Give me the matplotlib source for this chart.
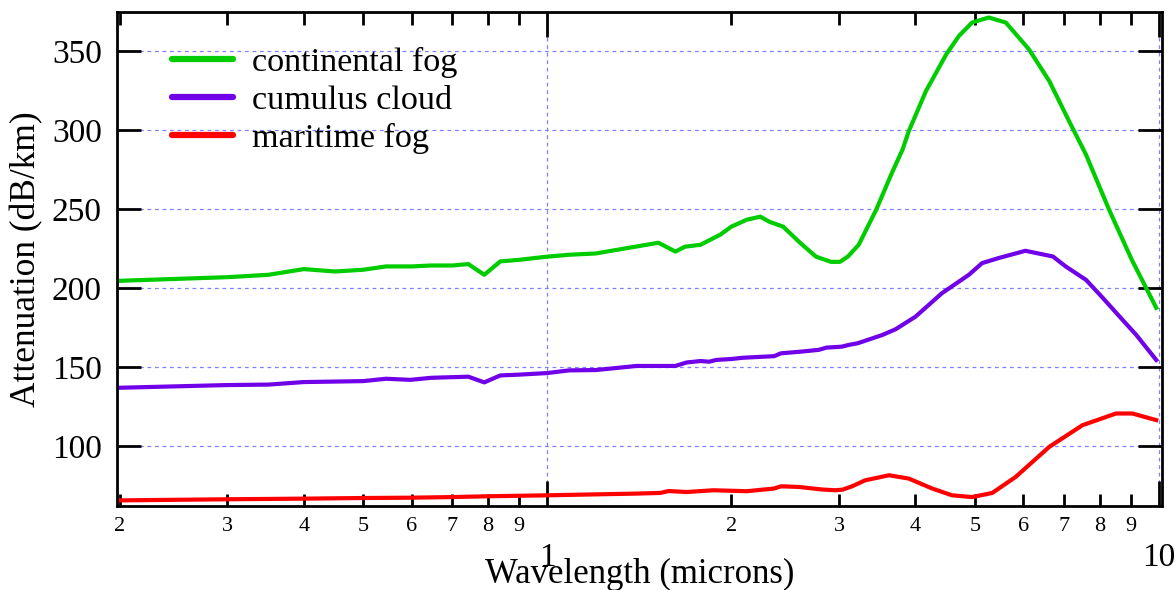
import matplotlib
matplotlib.use('Agg')
import matplotlib.pyplot as plt
from matplotlib.ticker import FixedLocator, FixedFormatter

plt.rcParams['font.family'] = ['Liberation Serif', 'DejaVu Serif']

# Continental fog (wavelength in microns, attenuation in dB/km)
wl_cont = [0.2, 0.3, 0.35, 0.4, 0.45, 0.5, 0.545, 0.6, 0.646, 0.7, 0.743, 0.789,
           0.838, 0.9, 1.0, 1.086, 1.2, 1.36, 1.52, 1.62, 1.68, 1.78, 1.92, 2.0,
           2.12, 2.23, 2.31, 2.43, 2.59, 2.75, 2.91, 3.01, 3.1, 3.23, 3.45, 3.66,
           3.81, 3.90, 4.16, 4.49, 4.71, 4.95, 5.27, 5.62, 6.13, 6.62, 7.13, 7.60,
           8.29, 9.03, 9.9]
att_cont = [204.7, 207, 208.5, 212.1, 210.6, 211.7, 213.8, 213.8, 214.4, 214.4,
            215.3, 208.5, 217, 218, 220, 221.2, 222, 225.6, 228.8, 223.2, 226.3,
            227.5, 234, 239, 243.4, 245.3, 242, 239, 228.8, 220, 216.7, 216.7,
            220, 227.5, 249.7, 273, 287.8, 299.4, 324.8, 348, 359.7, 368.2, 371.4,
            368.2, 351.3, 331.1, 305.8, 284.6, 249.7, 218, 187.6]

# Cumulus cloud
wl_cum = [0.2, 0.3, 0.35, 0.4, 0.5, 0.545, 0.597, 0.646, 0.743, 0.789, 0.838,
          0.9, 1.0, 1.086, 1.2, 1.40, 1.62, 1.69, 1.78, 1.84, 1.89, 2.0, 2.09,
          2.35, 2.41, 2.59, 2.78, 2.86, 3.03, 3.11, 3.22, 3.53, 3.71, 4.0, 4.42,
          4.89, 5.14, 5.47, 6.05, 6.71, 7.04, 7.60, 8.06, 8.72, 9.18, 9.9]
att_cum = [137, 138.7, 139, 140.6, 141.2, 142.7, 142, 143.3, 144, 140.4, 144.8,
           145.3, 146.3, 148, 148.2, 150.8, 150.8, 153, 153.9, 153.5, 154.6,
           155.2, 156, 157, 158.8, 159.8, 161, 162.4, 163, 164.1, 165.2, 170.4,
           174, 182, 196.9, 208.5, 215.9, 219.1, 223.7, 220.1, 213.8, 205.3,
           194.7, 180, 170.5, 154.6]

# Maritime fog
wl_mar = [0.2, 0.3, 0.4, 0.5, 0.6, 0.7, 0.8, 1.0, 1.2, 1.4, 1.53, 1.58, 1.69,
          1.87, 2.12, 2.35, 2.41, 2.58, 2.81, 2.96, 3.04, 3.15, 3.31, 3.62, 3.90,
          4.26, 4.59, 4.95, 5.34, 5.83, 6.62, 7.50, 8.51, 9.05, 9.9]
att_mar = [65.7, 66.4, 66.8, 67.2, 67.4, 67.8, 68.3, 68.9, 69.5, 70, 70.4, 71.6,
           71, 72.1, 71.5, 73.2, 74.6, 74.2, 72.6, 72.1, 72.5, 74.6, 78.4, 81.6,
           79.5, 73.2, 68.9, 67.8, 70.4, 80.5, 99.6, 113.3, 120.7, 120.7, 116.5]

major_x = [1, 10]
major_x_labels = ['1', '10']
minor_x = [0.2, 0.3, 0.4, 0.5, 0.6, 0.7, 0.8, 0.9, 2, 3, 4, 5, 6, 7, 8, 9]
minor_x_labels = ['2', '3', '4', '5', '6', '7', '8', '9'] * 2
y_ticks = [100, 150, 200, 250, 300, 350]

fig = plt.figure(figsize=(11.75, 5.9), dpi=100)
ax = fig.add_axes([0.0996, 0.142, 0.8894, 0.838])

ax.plot(wl_cont, att_cont, color='#00cc00', lw=3, solid_joinstyle='round',
        label='continental fog')
ax.plot(wl_cum, att_cum, color='#7000e8', lw=3, solid_joinstyle='round',
        label='cumulus cloud')
ax.plot(wl_mar, att_mar, color='#ff0000', lw=3, solid_joinstyle='round',
        label='maritime fog')

ax.set_xscale('log')
ax.set_xlim(0.198, 10.12)
ax.set_ylim(62, 375)

ax.xaxis.set_major_locator(FixedLocator(major_x))
ax.xaxis.set_major_formatter(FixedFormatter(major_x_labels))
ax.xaxis.set_minor_locator(FixedLocator(minor_x))
ax.xaxis.set_minor_formatter(FixedFormatter(minor_x_labels))
ax.set_yticks(y_ticks)
ax.set_yticklabels([str(v) for v in y_ticks])

ax.tick_params(axis='x', which='major', direction='in', length=18, width=2,
               top=True, labelsize=24, pad=26)
ax.tick_params(axis='x', which='minor', direction='in', length=9, width=2,
               top=True, labelsize=16, pad=8)
ax.tick_params(axis='y', direction='in', length=17, width=2, right=True,
               labelsize=24, pad=11)

for s in ax.spines.values():
    s.set_linewidth(2)

ax.grid(True, which='major', color='#8080ff', linestyle=(0, (3, 3)), linewidth=0.9)

ax.set_xlabel('Wavelength (microns)', fontsize=25)
ax.xaxis.set_label_coords(0.5, -0.105)
ax.set_ylabel('Attenuation (dB/km)', fontsize=25.5)
ax.yaxis.set_label_coords(-0.071, 0.5)

leg = ax.legend(loc='upper left', bbox_to_anchor=(0.053, 0.929), frameon=False,
                fontsize=24.6, handlelength=1.78, handletextpad=0.56,
                labelspacing=0.21, borderaxespad=0, borderpad=0)
for line in leg.get_lines():
    line.set_linewidth(4.5)
    line.set_solid_capstyle('round')

fig.savefig('out.png', dpi=100)
